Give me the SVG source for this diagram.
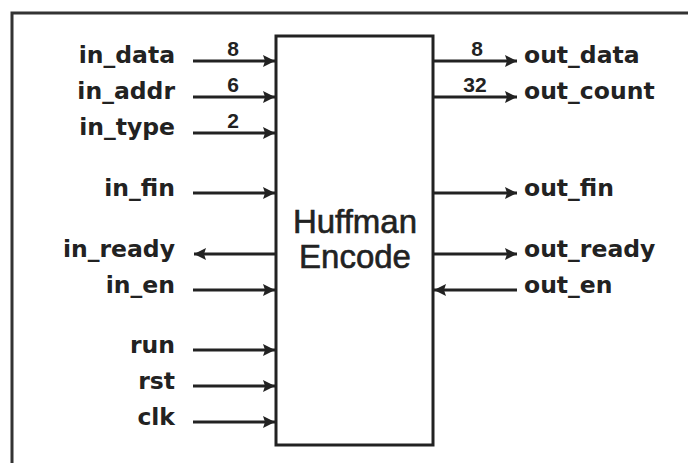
<svg xmlns="http://www.w3.org/2000/svg" width="688" height="463" viewBox="0 0 688 463">
<style>
.lbl{font-family:"DejaVu Sans",sans-serif;font-weight:bold;font-size:23.5px;fill:#222}
.num{font-family:"Liberation Sans",Arial,sans-serif;font-weight:bold;font-size:21px;fill:#222;text-anchor:middle}
.title{font-family:"Liberation Sans",Arial,sans-serif;font-size:33px;fill:#222;stroke:#222;stroke-width:0.6;text-anchor:middle}
.w{stroke:#222;stroke-width:3;fill:none}
</style>
<defs>
<marker id="ah" markerUnits="userSpaceOnUse" markerWidth="14" markerHeight="14" refX="12" refY="7" orient="auto">
<path d="M0,1 L12,7 L0,13 L2,7 z" fill="#222"/>
</marker>
</defs>
<rect width="688" height="463" fill="#fff"/>
<g id="frame">
<path d="M12,463 L12,13 L688,13" fill="none" stroke="#333" stroke-width="3"/>
</g>
<g id="encoder">
<rect x="276" y="36" width="157" height="409" fill="#fff" stroke="#222" stroke-width="3"/>
<text class="title" x="355" y="233">Huffman</text>
<text class="title" x="355" y="268">Encode</text>
</g>
<g id="connectors">
<line class="w" x1="193" y1="61" x2="275" y2="61" marker-end="url(#ah)"/>
<line class="w" x1="193" y1="97" x2="275" y2="97" marker-end="url(#ah)"/>
<line class="w" x1="193" y1="133" x2="275" y2="133" marker-end="url(#ah)"/>
<line class="w" x1="193" y1="193" x2="275" y2="193" marker-end="url(#ah)"/>
<line class="w" x1="276" y1="254" x2="194" y2="254" marker-end="url(#ah)"/>
<line class="w" x1="193" y1="290" x2="275" y2="290" marker-end="url(#ah)"/>
<line class="w" x1="193" y1="350" x2="275" y2="350" marker-end="url(#ah)"/>
<line class="w" x1="193" y1="386" x2="275" y2="386" marker-end="url(#ah)"/>
<line class="w" x1="193" y1="422" x2="275" y2="422" marker-end="url(#ah)"/>
<line class="w" x1="433" y1="61" x2="517" y2="61" marker-end="url(#ah)"/>
<line class="w" x1="433" y1="97" x2="517" y2="97" marker-end="url(#ah)"/>
<line class="w" x1="433" y1="193" x2="517" y2="193" marker-end="url(#ah)"/>
<line class="w" x1="433" y1="254" x2="517" y2="254" marker-end="url(#ah)"/>
<line class="w" x1="517" y1="290" x2="434" y2="290" marker-end="url(#ah)"/>
<text class="num" x="233" y="56">8</text>
<text class="num" x="233" y="92">6</text>
<text class="num" x="233" y="128">2</text>
<text class="num" x="477" y="56">8</text>
<text class="num" x="475" y="92">32</text>
</g>
<g id="labels-in" text-anchor="end">
<text class="lbl" x="175" y="63">in_data</text>
<text class="lbl" x="175" y="99">in_addr</text>
<text class="lbl" x="175" y="135">in_type</text>
<text class="lbl" x="175" y="196">in_fin</text>
<text class="lbl" x="175" y="257">in_ready</text>
<text class="lbl" x="175" y="293">in_en</text>
<text class="lbl" x="175" y="353">run</text>
<text class="lbl" x="175" y="389">rst</text>
<text class="lbl" x="175" y="425">clk</text>
</g>
<g id="labels-out">
<text class="lbl" x="524" y="63">out_data</text>
<text class="lbl" x="524" y="99">out_count</text>
<text class="lbl" x="524" y="196">out_fin</text>
<text class="lbl" x="524" y="257">out_ready</text>
<text class="lbl" x="524" y="293">out_en</text>
</g>
</svg>
